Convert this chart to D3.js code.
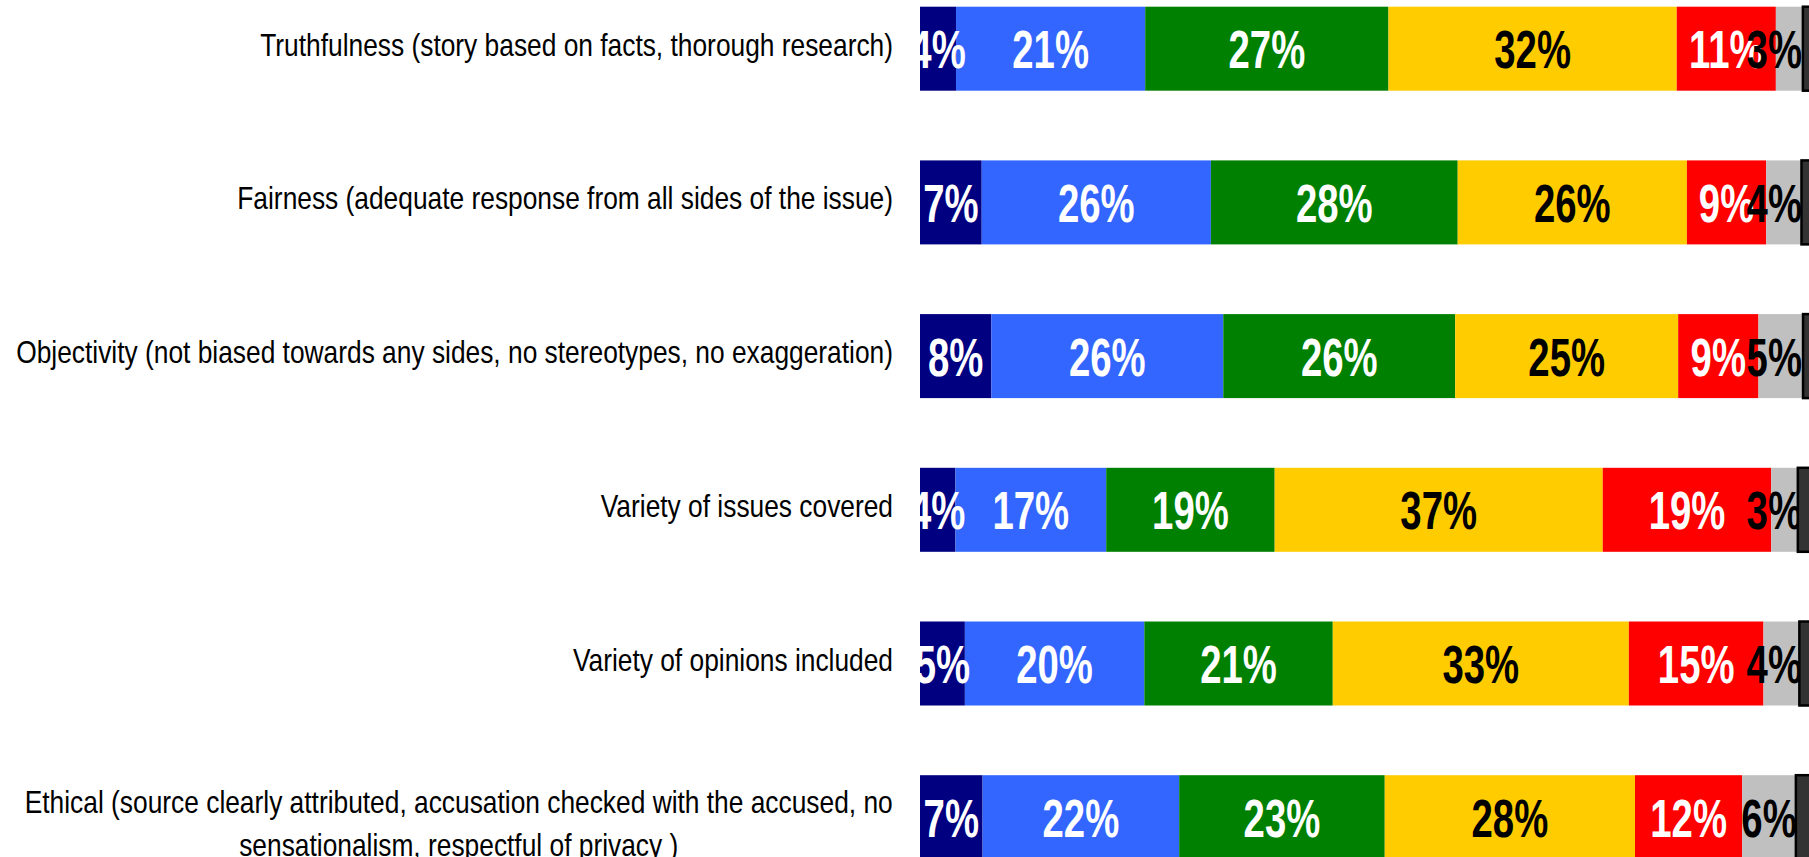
<html>
<head>
  <meta charset="utf-8">
  <title>Stacked bar chart</title>
  <script src="https://d3js.org/d3.v7.min.js"></script>
  <style>
    body { margin: 0; background: #fff; }
  </style>
</head>
<body>
<div id="chart"></div>
<script>

// categories (a "\n" marks a line break in the label)
var categories = [
  "Truthfulness (story based on facts, thorough research)",
  "Fairness (adequate response from all sides of the issue)",
  "Objectivity (not biased towards any sides, no stereotypes, no exaggeration)",
  "Variety of issues covered",
  "Variety of opinions included",
  "Ethical (source clearly attributed, accusation checked with the accused, no\nsensationalism, respectful of privacy )"
];

// percentages per rating, top to bottom
var rate1 = [4, 7, 8, 4, 5, 7];
var rate2 = [21, 26, 26, 17, 20, 22];
var rate3 = [27, 28, 26, 19, 21, 23];
var rate4 = [32, 26, 25, 37, 33, 28];
var rate5 = [11, 9, 9, 19, 15, 12];
var rate6 = [3, 4, 5, 3, 4, 6];
// last segment, label not visible (cut off at the right edge)
var noAnswer = [1.9, 2.1, 1.9, 2.5, 2.3, 2.7];

var keys = ["r1", "r2", "r3", "r4", "r5", "r6", "na"];
var fills = ["#000080", "#3366ff", "#008000", "#ffcc00", "#ff0000", "#c0c0c0", "#333333"];
var labelColors = ["#fff", "#fff", "#fff", "#000", "#fff", "#000", "#000"];

var rows = categories.map(function(c, i) {
  return { cat: c, r1: rate1[i], r2: rate2[i], r3: rate3[i], r4: rate4[i],
           r5: rate5[i], r6: rate6[i], na: noAnswer[i] };
});

var width = 1809, height = 857;

var svg = d3.select("#chart").append("svg")
  .attr("width", width)
  .attr("height", height)
  .style("display", "block");

var x = d3.scaleLinear().domain([0, 1]).range([920, 1820]);
var y = d3.scaleBand()
  .domain(categories)
  .range([6.7, 859.2])
  .paddingInner(0.4535)
  .paddingOuter(0);

var stacked = d3.stack().keys(keys).offset(d3.stackOffsetExpand)(rows);

var color = d3.scaleOrdinal().domain(keys).range(fills);
var textColor = d3.scaleOrdinal().domain(keys).range(labelColors);

// bars (all but the dark last segment)
var layers = svg.selectAll("g.layer")
  .data(stacked.filter(function(s) { return s.key != "na"; }))
  .enter().append("g")
    .attr("class", "layer")
    .attr("fill", function(s) { return color(s.key); });

layers.selectAll("rect")
  .data(function(s) { return s; })
  .enter().append("rect")
    .attr("x", function(d) { return x(d[0]); })
    .attr("y", function(d) { return y(d.data.cat); })
    .attr("width", function(d) { return x(d[1]) - x(d[0]); })
    .attr("height", y.bandwidth());

// percent labels, squeezed horizontally like the original
var sx = 0.71;
var rightLimit = 1802;
stacked.filter(function(s) { return s.key != "na"; }).forEach(function(s) {
  s.forEach(function(d) {
    var cx = (x(d[0]) + x(d[1])) / 2;
    var cy = y(d.data.cat) + y.bandwidth() / 2 + 19.5;
    var t = svg.append("text")
      .text(d.data[s.key] + "%")
      .attr("text-anchor", "middle")
      .attr("fill", textColor(s.key))
      .style("font-family", "'Liberation Sans', Arial, sans-serif")
      .style("font-weight", "bold")
      .style("font-size", "54px");
    var w = t.node().getComputedTextLength() * sx;
    if (cx + w / 2 > rightLimit) cx = rightLimit - w / 2;
    t.attr("transform", "translate(" + cx + "," + cy + ") scale(" + sx + ",1)");
  });
});

// dark last segment drawn on top
var last = stacked.filter(function(s) { return s.key == "na"; })[0];
svg.selectAll("rect.na")
  .data(last)
  .enter().append("rect")
    .attr("class", "na")
    .attr("x", function(d) { return x(d[0]); })
    .attr("y", function(d) { return y(d.data.cat); })
    .attr("width", function(d) { return x(d[1]) - x(d[0]); })
    .attr("height", y.bandwidth())
    .attr("fill", color("na"))
    .attr("stroke", "#000")
    .attr("stroke-width", 2.5);

// category labels
var lx = 893, csx = 0.85;
categories.forEach(function(c) {
  var lines = c.split("\n");
  var cy = y(c) + y.bandwidth() / 2;
  if (lines.length == 1) {
    svg.append("text")
      .text(c)
      .attr("text-anchor", "end")
      .attr("transform", "translate(" + lx + "," + (cy + 7) + ") scale(" + csx + ",1)")
      .style("font-family", "'Liberation Sans', Arial, sans-serif")
      .style("font-size", "31px")
      .attr("fill", "#000");
  } else {
    var g = svg.append("g");
    var texts = lines.map(function(l, i) {
      return g.append("text")
        .text(l)
        .attr("text-anchor", "middle")
        .style("font-family", "'Liberation Sans', Arial, sans-serif")
        .style("font-size", "31px")
        .attr("fill", "#000")
        .attr("y", i * 43);
    });
    var maxW = d3.max(texts, function(t) { return t.node().getComputedTextLength(); }) * csx;
    g.attr("transform", "translate(" + (lx - maxW / 2) + "," + (cy - 4) + ") scale(" + csx + ",1)");
  }
});

</script>
</body>
</html>
